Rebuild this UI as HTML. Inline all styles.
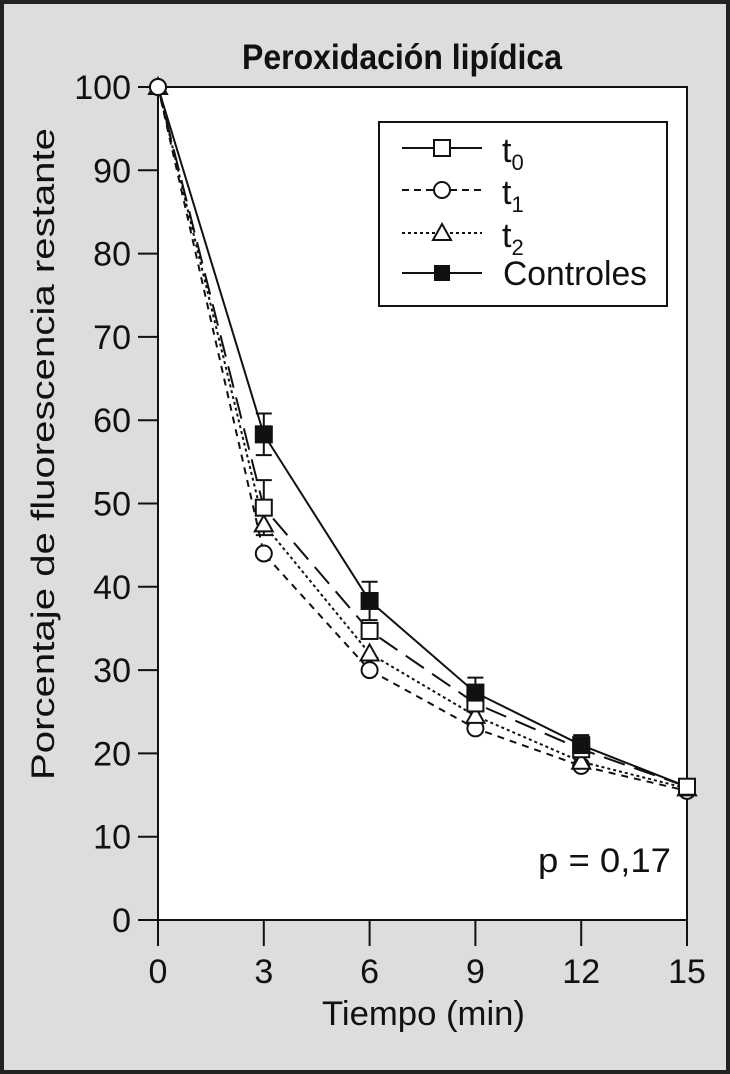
<!DOCTYPE html>
<html><head><meta charset="utf-8"><style>
html,body{margin:0;padding:0;background:#dcdddf;}
svg{display:block;}
text{font-family:"Liberation Sans",sans-serif;fill:#111;}
</style></head><body>
<svg id="chart" width="730" height="1074" viewBox="0 0 730 1074">
<rect x="2" y="2" width="726" height="1070" fill="#dcdddf" stroke="#222" stroke-width="4"/>
<text x="242" y="69" font-size="35" font-weight="bold" textLength="320" lengthAdjust="spacingAndGlyphs">Peroxidación lipídica</text>
<rect x="158" y="87" width="529" height="833" fill="#fff" stroke="#111" stroke-width="2"/>
<g id="axes"></g>
<g id="series"></g>
<g>
<rect x="379" y="122" width="288" height="184" fill="#fff" stroke="#111" stroke-width="2"/>
<g><line x1="402" y1="148" x2="482" y2="148" stroke="#111" stroke-width="2"/><rect x="434" y="140" width="16" height="16" fill="#fff" stroke="#111" stroke-width="2"/><text x="502" y="162" font-size="34">t<tspan font-size="22" dy="8">0</tspan></text></g>
<g><line x1="402" y1="190" x2="482" y2="190" stroke="#111" stroke-width="2" stroke-dasharray="7,5"/><circle cx="442" cy="190" r="8" fill="#fff" stroke="#111" stroke-width="2"/><text x="502" y="204" font-size="34">t<tspan font-size="22" dy="8">1</tspan></text></g>
<g><line x1="402" y1="233" x2="482" y2="233" stroke="#111" stroke-width="2" stroke-dasharray="3,3"/><path d="M442,224 L451,240 L433,240 Z" fill="#fff" stroke="#111" stroke-width="2"/><text x="502" y="247" font-size="34">t<tspan font-size="22" dy="8">2</tspan></text></g>
<g><line x1="402" y1="273" x2="482" y2="273" stroke="#111" stroke-width="2"/><rect x="434" y="265" width="16" height="16" fill="#111"/><text x="503" y="285" font-size="34" textLength="144" lengthAdjust="spacingAndGlyphs">Controles</text></g>
</g>
<text x="538" y="872" font-size="34" textLength="133" lengthAdjust="spacingAndGlyphs">p = 0,17</text>
<text transform="translate(54,454) rotate(-90)" text-anchor="middle" font-size="32" textLength="652" lengthAdjust="spacingAndGlyphs">Porcentaje de fluorescencia restante</text>
<text x="322" y="1025" font-size="34" textLength="203" lengthAdjust="spacingAndGlyphs">Tiempo (min)</text>
</svg>
<script>
const times=[0,3,6,9,12,15];
const t0=[100,49.5,34.7,26,20.5,16];
const t1=[100,44,30,23,18.5,15.5];
const t2=[100,47.5,32,24.5,19,15.8];
const controles=[100,58.3,38.3,27.3,21,16];
const t0Err=[0,3.3,0,0,0,0];
const controlesErr=[0,2.5,2.3,1.8,1.2,0];
const xTicks=[0,3,6,9,12,15];
const yTicks=[0,10,20,30,40,50,60,70,80,90,100];
const NS="http://www.w3.org/2000/svg";
const X=v=>158+v*(529/15), Y=v=>920-v*8.33;
function el(tag,attrs,parent){const e=document.createElementNS(NS,tag);for(const k in attrs)e.setAttribute(k,attrs[k]);parent.appendChild(e);return e;}
const axes=document.getElementById('axes'), ser=document.getElementById('series');
yTicks.forEach(v=>{
 const l=el('line',{x1:138,x2:158,y1:Y(v),y2:Y(v),stroke:'#111','stroke-width':2},axes);
 
 
 const t=el('text',{x:131,y:Y(v)+12,'text-anchor':'end','font-size':34},axes);t.textContent=v;
 
 
});
xTicks.forEach(v=>{
 const l=el('line',{x1:X(v),x2:X(v),y1:920,y2:946,stroke:'#111','stroke-width':2},axes);
 
 
 const t=el('text',{x:X(v),y:983,'text-anchor':'middle','font-size':34},axes);t.textContent=v;
 
 
});
function line(vals,dash,name){
 const p=el('polyline',{points:vals.map((v,i)=>X(times[i])+','+Y(v)).join(' '),fill:'none',stroke:'#111','stroke-width':2,'stroke-dasharray':dash},ser);
 
 
}
function errs(vals,er,name){
 vals.forEach((v,i)=>{if(!er[i])return;const x=X(times[i]);
  const g=el('path',{d:`M${x},${Y(v-er[i])}V${Y(v+er[i])}M${x-8},${Y(v+er[i])}h16M${x-8},${Y(v-er[i])}h16`,stroke:'#111','stroke-width':2,fill:'none'},ser);
  
  
 });
}
line(t1,'7,6','line-t1');
line(t2,'3,3','line-t2');
line(t0,'22,10','line-t0');
line(controles,'','line-controles');
errs(controles,controlesErr,'error-bar-controles');
errs(t0,t0Err,'error-bar-t0');
t1.forEach((v,i)=>{const c=el('circle',{cx:X(times[i]),cy:Y(v),r:8,fill:'#fff',stroke:'#111','stroke-width':2},ser);
 
 });
t2.forEach((v,i)=>{const x=X(times[i]),y=Y(v);const c=el('path',{d:`M${x},${y-9}L${x+9},${y+7}L${x-9},${y+7}Z`,fill:'#fff',stroke:'#111','stroke-width':2},ser);
 
 });
t0.forEach((v,i)=>{if(i==0)return;const c=el('rect',{x:X(times[i])-8,y:Y(v)-8,width:16,height:16,fill:'#fff',stroke:'#111','stroke-width':2},ser);
 
 });
controles.forEach((v,i)=>{if(i==0||i==5)return;const c=el('rect',{x:X(times[i])-9,y:Y(v)-9,width:18,height:18,fill:'#111'},ser);
 
 });
const c0=el('circle',{cx:X(0),cy:Y(100),r:8,fill:'#fff',stroke:'#111','stroke-width':2},ser);


</script>
</body></html>
